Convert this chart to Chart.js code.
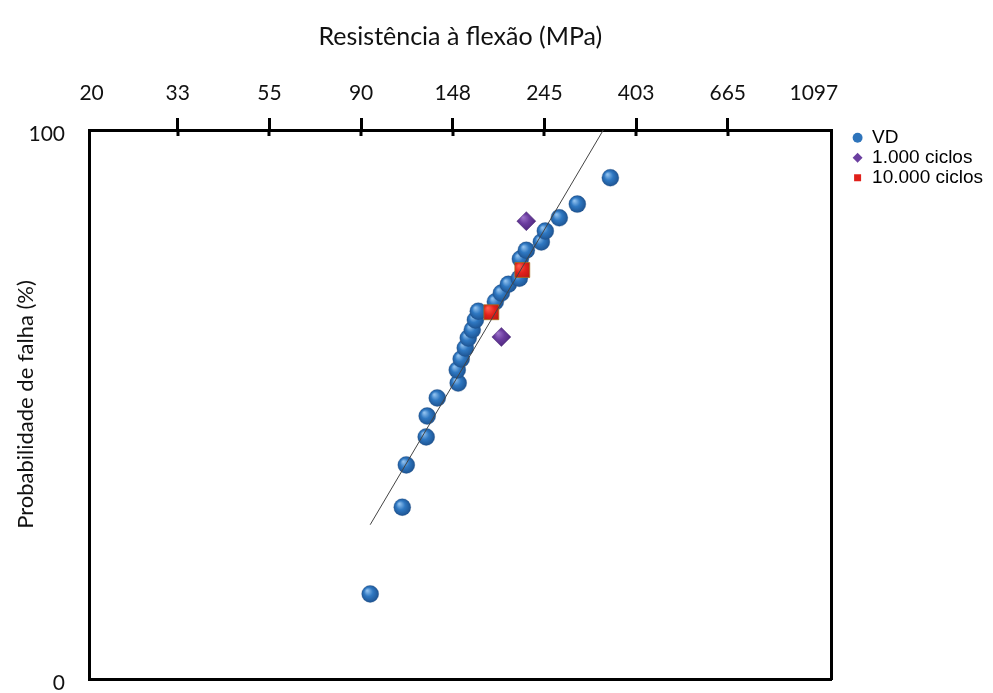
<!DOCTYPE html>
<html>
<head>
<meta charset="utf-8">
<script src="https://cdn.jsdelivr.net/npm/chart.js@4.4.1/dist/chart.umd.min.js"></script>
<style>
  html, body { margin: 0; padding: 0; background: #ffffff; }
  #wrap { width: 993px; height: 693px; position: relative; }
</style>
</head>
<body>
<div id="wrap"><canvas id="c" width="993" height="693"></canvas></div>
<script>
// ---- data ----
// flexural strength in MPa (top axis, natural-log scale)
const vdStrength = [94.6, 112.7, 115.2, 128.4, 129.1, 136.4, 152.9, 152.1, 155.4, 158.9, 161.5, 165.1, 167.9, 170.6, 187.2, 193.5, 201.0, 213.4, 214.6, 221.7, 240.6, 245.9, 265.4, 292.8, 350.6];
const vdProb     = [15.5, 31.3, 39.0, 44.1, 47.9, 51.2, 53.9, 56.3, 58.3, 60.3, 62.1, 63.6, 65.4, 67.0, 68.7, 70.3, 71.9, 73.0, 76.5, 78.1, 79.6, 81.6, 84.0, 86.5, 91.3];

const c1000Strength = [193.5, 221.7];
const c1000Prob     = [62.3, 83.4];

const c10000Strength = [183.2, 216.9];
const c10000Prob     = [66.8, 74.5];

const fitStrength = [94.6, 337.4];
const fitProb     = [28.1, 100];

const seriesNames = ['VD', '1.000 ciclos', '10.000 ciclos'];
const legendColors = ['#2e74bb', '#6b3fa0', '#e0201b'];

// top axis ticks (MPa) and their labels
const tickValues = [20.7, 33.12, 54.6, 90.02, 148.4, 244.7, 403.4, 665.1, 1064];
const tickLabels = ['20', '33', '55', '90', '148', '245', '403', '665', '1097'];
const yTickValues = [0, 100];

const axisMin = 20.41, axisMax = 1172;

const toPts = (xs, ys) => xs.map((x, i) => ({ x: x, y: ys[i] }));

// shaded fill for the markers (light upper-left, dark lower-right)
function shaded(light, mid, dark, fallback, r) {
  return (c) => {
    try {
      if (c.type !== 'data' || !c.raw || !c.chart.chartArea) return fallback;
      const sx = c.chart.scales.x, sy = c.chart.scales.y;
      const px = sx.getPixelForValue(c.raw.x), py = sy.getPixelForValue(c.raw.y);
      if (!isFinite(px) || !isFinite(py)) return fallback;
      const g = c.chart.ctx.createRadialGradient(px - r * 0.35, py - r * 0.4, 0.5, px, py, r * 1.1);
      g.addColorStop(0, light);
      g.addColorStop(0.45, mid);
      g.addColorStop(1, dark);
      return g;
    } catch (e) { return fallback; }
  };
}

const innerTicks = {
  id: 'innerTicks',
  afterDraw(chart) {
    const s = chart.scales.x;
    const ctx = chart.ctx;
    const top = chart.chartArea.top;
    ctx.save();
    ctx.strokeStyle = '#000';
    ctx.lineWidth = 3;
    s.ticks.forEach((t, i) => {
      if (i === 0 || i === s.ticks.length - 1) return;
      const px = Math.round(s.getPixelForValue(t.value));
      ctx.beginPath();
      ctx.moveTo(px, top);
      ctx.lineTo(px, top + 6);
      ctx.stroke();
    });
    ctx.restore();
  }
};

new Chart(document.getElementById('c'), {
  type: 'scatter',
  data: {
    datasets: [
      {
        label: seriesNames[0],
        data: toPts(vdStrength, vdProb),
        pointStyle: 'circle',
        pointRadius: 8.5,
        pointHoverRadius: 8.5,
        backgroundColor: shaded('#8fc0ee', '#2f78c2', '#1b4f8c', '#2a6fb6', 8.5),
        borderColor: 'rgba(27,70,125,0.6)',
        borderWidth: 0.5,
        order: 3
      },
      {
        label: seriesNames[1],
        data: toPts(c1000Strength, c1000Prob),
        pointStyle: 'rectRot',
        pointRadius: 9.5,
        pointHoverRadius: 9.5,
        backgroundColor: shaded('#9a70c8', '#6a3c9e', '#4a2478', '#65389a', 9.5),
        borderColor: '#4a2a75',
        borderWidth: 0.5,
        order: 2
      },
      {
        label: seriesNames[2],
        data: toPts(c10000Strength, c10000Prob),
        pointStyle: 'rect',
        pointRadius: 10.5,
        pointHoverRadius: 10.5,
        backgroundColor: shaded('#ff5a4a', '#e2211b', '#b01510', '#dd2019', 10.5),
        borderColor: '#a8701a',
        borderWidth: 0.8,
        order: 1
      },
      {
        label: 'fit',
        data: toPts(fitStrength, fitProb),
        showLine: true,
        pointRadius: 0,
        borderColor: '#444444',
        borderWidth: 1,
        fill: false,
        order: 0
      }
    ]
  },
  options: {
    responsive: false,
    devicePixelRatio: 1,
    animation: false,
    layout: { padding: { left: 0, right: 0, top: 0, bottom: 0 } },
    plugins: {
      tooltip: { enabled: false },
      legend: {
        position: 'right',
        align: 'start',
        title: {
          display: true,
          text: ' ',
          font: { size: 1 },
          padding: { top: 126, bottom: 0 }
        },
        labels: {
          usePointStyle: true,
          boxWidth: 10,
          boxHeight: 7,
          padding: 1,
          color: '#000',
          font: { family: '"Liberation Sans", Arial, sans-serif', size: 19 },
          filter: (item) => item.datasetIndex < 3,
          sort: (a, b) => a.datasetIndex - b.datasetIndex,
          generateLabels: (chart) => {
            const items = Chart.defaults.plugins.legend.labels.generateLabels(chart);
            items.forEach(it => {
              if (it.datasetIndex < 3) {
                it.fillStyle = legendColors[it.datasetIndex];
                it.strokeStyle = legendColors[it.datasetIndex];
                it.lineWidth = 0;
              }
            });
            return items;
          }
        }
      }
    },
    scales: {
      x: {
        type: 'logarithmic',
        position: 'top',
        min: axisMin,
        max: axisMax,
        afterBuildTicks: (s) => { s.ticks = tickValues.map(v => ({ value: v })); },
        afterFit: (s) => { s.height = 130; },
        ticks: {
          autoSkip: false,
          maxRotation: 0,
          padding: 12,
          color: '#111',
          font: { family: 'Lato, sans-serif', size: 21 },
          callback: (v, i) => tickLabels[i]
        },
        grid: {
          display: true,
          drawOnChartArea: false,
          drawTicks: true,
          tickLength: 12,
          tickWidth: 3,
          tickColor: (ctx) => (ctx.index === 0 || ctx.index === tickValues.length - 1) ? 'rgba(0,0,0,0)' : '#000'
        },
        border: { display: true, color: '#000', width: 3 },
        title: {
          display: true,
          text: 'Resistência à flexão (MPa)',
          color: '#111',
          font: { family: 'Lato, sans-serif', size: 25 },
          padding: { top: 22, bottom: 0 }
        }
      },
      x2: {
        type: 'linear',
        position: 'bottom',
        min: 0, max: 1,
        afterFit: (s) => { s.height = 14; },
        ticks: { display: false },
        grid: { display: false, drawTicks: false },
        border: { display: true, color: '#000', width: 3 }
      },
      y: {
        type: 'linear',
        position: 'left',
        min: 0,
        max: 100,
        afterBuildTicks: (s) => { s.ticks = yTickValues.map(v => ({ value: v })); },
        afterFit: (s) => { s.width = 89; s.paddingTop = 0; s.paddingBottom = 0; },
        ticks: {
          padding: 24,
          labelOffset: 4,
          color: '#111',
          font: { family: 'Lato, sans-serif', size: 21 }
        },
        grid: { display: false, drawTicks: false },
        border: { display: true, color: '#000', width: 3 },
        title: {
          display: true,
          text: 'Probabilidade de falha (%)',
          color: '#111',
          font: { family: 'Lato, sans-serif', size: 22 },
          padding: { top: 13, bottom: 0 }
        }
      },
      y2: {
        type: 'linear',
        position: 'right',
        min: 0, max: 1,
        afterFit: (s) => { s.width = 20; },
        ticks: { display: false },
        grid: { display: false, drawTicks: false },
        border: { display: true, color: '#000', width: 3 }
      }
    }
  },
  plugins: [innerTicks]
});
</script>
</body>
</html>
